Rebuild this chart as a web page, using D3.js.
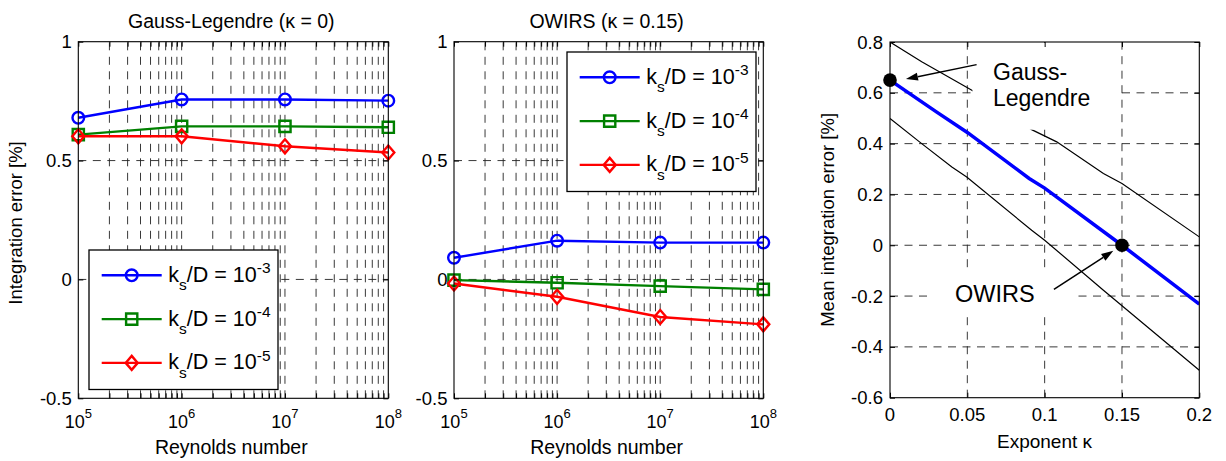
<!DOCTYPE html>
<html>
<head>
<meta charset="utf-8">
<script src="https://cdn.jsdelivr.net/npm/d3@7"></script>
<style>
  html, body { margin: 0; padding: 0; background: #fff; }
  svg { display: block; }
  text { font-family: 'Liberation Sans', Arial, Helvetica, sans-serif; fill: #000; }
</style>
</head>
<body>
<svg id="chart" width="1226" height="461"></svg>
<script>
// ---------------- DATA ----------------
const reynolds = [1e5, 1e6, 1e7, 1e8];
const seriesExponents = ["-3", "-4", "-5"];

// Gauss-Legendre (kappa = 0)
const glKs3 = [0.680, 0.757, 0.757, 0.752];
const glKs4 = [0.609, 0.644, 0.644, 0.640];
const glKs5 = [0.602, 0.602, 0.560, 0.534];

// OWIRS (kappa = 0.15)
const owKs3 = [0.091, 0.163, 0.155, 0.155];
const owKs4 = [-0.003, -0.014, -0.028, -0.042];
const owKs5 = [-0.017, -0.073, -0.158, -0.189];

// Right panel: mean integration error vs exponent kappa
const kappaMean = [0, 0.03, 0.05, 0.09, 0.10, 0.15, 0.20];
const meanErr   = [0.650, 0.525, 0.444, 0.263, 0.225, 0.000, -0.232];
const kappaUpper = [0, 0.0205, 0.0535, 0.0916, 0.1078, 0.138, 0.150, 0.200];
const upperErr   = [0.800, 0.722, 0.608, 0.455, 0.407, 0.282, 0.243, 0.033];
const kappaLower = [0, 0.0205, 0.040, 0.0496, 0.0916, 0.100, 0.138, 0.200];
const lowerErr   = [0.499, 0.400, 0.308, 0.269, 0.059, 0.020, -0.177, -0.492];

// highlighted points
const highlightKappa = [0, 0.15];
const highlightErr   = [0.650, 0.000];

// tick values
const yTicksLeft = [-0.5, 0, 0.5, 1];
const yTickLabelsLeft = ["-0.5", "0", "0.5", "1"];
const xTicksLog = [1e5, 1e6, 1e7, 1e8];
const xTickExpLog = ["5", "6", "7", "8"];
const yTicksRight = [-0.6, -0.4, -0.2, 0, 0.2, 0.4, 0.6, 0.8];
const yTickLabelsRight = ["-0.6", "-0.4", "-0.2", "0", "0.2", "0.4", "0.6", "0.8"];
const xTicksRight = [0, 0.05, 0.1, 0.15, 0.2];
const xTickLabelsRight = ["0", "0.05", "0.1", "0.15", "0.2"];

// ---------------- STYLE / LAYOUT ----------------
const colors = ["#0000ff", "#008000", "#ff0000"];
const markers = ["circle", "square", "diamond"];
const DASH = "8,6.5";
const TICK = 5;
const FS_TICK = 18.5;
const LW = 2.4;

const svg = d3.select("#chart");

function pathMarker(type) {
  if (type === "circle") return d3.symbol().type(d3.symbolCircle).size(Math.PI * 5.8 * 5.8)();
  if (type === "square") return "M-5.6,-5.6L5.6,-5.6L5.6,5.6L-5.6,5.6Z";
  return "M0,-7L6,0L0,7L-6,0Z";
}

function drawLegendEntry(g, x0, y, i) {
  g.append("line").attr("x1", x0).attr("x2", x0 + 60).attr("y1", y).attr("y2", y)
    .attr("stroke", colors[i]).attr("stroke-width", LW);
  g.append("path").attr("d", pathMarker(markers[i])).attr("transform", `translate(${x0 + 30},${y})`)
    .attr("fill", "none").attr("stroke", colors[i]).attr("stroke-width", LW);
  const t = g.append("text").attr("x", x0 + 66.6).attr("y", y + 6.5).attr("font-size", 21.5);
  t.append("tspan").text("k");
  t.append("tspan").attr("dy", 8.5).attr("font-size", 15.5).text("s");
  t.append("tspan").attr("dy", -8.5).text("/D = 10");
  t.append("tspan").attr("dy", -8.5).attr("font-size", 15.5).text(seriesExponents[i]);
}

function logPanel(opts) {
  const { left, right, top, bottom, title, data, legend } = opts;
  const g = svg.append("g");
  const x = d3.scaleLog().domain([1e5, 1e8]).range([left, right]);
  const y = d3.scaleLinear().domain([-0.5, 1]).range([bottom, top]);
  const allX = x.ticks();  // 1..9 multiples in each decade

  // grid
  g.append("g").selectAll("line").data(allX.filter(v => v > 1e5 && v < 1e8)).join("line")
    .attr("x1", d => x(d)).attr("x2", d => x(d)).attr("y1", bottom).attr("y2", top)
    .attr("stroke", "#222").attr("stroke-width", 0.9).attr("stroke-dasharray", DASH);
  g.append("g").selectAll("line").data(yTicksLeft.filter(v => v > -0.5 && v < 1)).join("line")
    .attr("x1", left).attr("x2", right).attr("y1", d => y(d)).attr("y2", d => y(d))
    .attr("stroke", "#222").attr("stroke-width", 0.9).attr("stroke-dasharray", DASH);

  // data
  const line = d3.line().x((d, j) => x(reynolds[j])).y(d => y(d));
  data.forEach((vals, i) => {
    g.append("path").attr("d", line(vals)).attr("fill", "none")
      .attr("stroke", colors[i]).attr("stroke-width", LW).attr("stroke-linejoin", "round");
    g.append("g").selectAll("path").data(vals).join("path")
      .attr("d", pathMarker(markers[i]))
      .attr("transform", (d, j) => `translate(${x(reynolds[j])},${y(d)})`)
      .attr("fill", "none").attr("stroke", colors[i]).attr("stroke-width", LW);
  });

  // axes ticks (inward) bottom/top/left/right
  g.append("g").attr("transform", `translate(0,${bottom})`)
    .call(d3.axisBottom(x).tickValues(allX).tickSize(-TICK).tickFormat(""))
    .call(a => a.select(".domain").remove());
  g.append("g").attr("transform", `translate(0,${top})`)
    .call(d3.axisTop(x).tickValues(allX).tickSize(-TICK).tickFormat(""))
    .call(a => a.select(".domain").remove());
  g.append("g").attr("transform", `translate(${left},0)`)
    .call(d3.axisLeft(y).tickValues(yTicksLeft).tickSize(-TICK).tickFormat(""))
    .call(a => a.select(".domain").remove());
  g.append("g").attr("transform", `translate(${right},0)`)
    .call(d3.axisRight(y).tickValues(yTicksLeft).tickSize(-TICK).tickFormat(""))
    .call(a => a.select(".domain").remove());
  g.selectAll(".tick line").attr("stroke", "#000").attr("stroke-width", 1);

  // legend
  const lg = g.append("g");
  lg.append("rect").attr("x", legend.x).attr("y", legend.y).attr("width", 189).attr("height", 139.5)
    .attr("fill", "#fff").attr("stroke", "#000").attr("stroke-width", 1.3);
  [0, 1, 2].forEach(i => drawLegendEntry(lg, legend.x + 12.7, legend.y + 25.3 + i * 43.8, i));

  // frame
  g.append("rect").attr("x", left).attr("y", top).attr("width", right - left).attr("height", bottom - top)
    .attr("fill", "none").attr("stroke", "#000").attr("stroke-width", 1.1);

  // tick labels
  yTicksLeft.forEach((v, i) => {
    g.append("text").attr("x", left - 6.5).attr("y", y(v) + 6.5).attr("text-anchor", "end")
      .attr("font-size", FS_TICK).text(yTickLabelsLeft[i]);
  });
  xTicksLog.forEach((v, i) => {
    const t = g.append("text").attr("x", x(v)).attr("y", bottom + 30).attr("text-anchor", "middle")
      .attr("font-size", 18);
    t.append("tspan").text("10");
    t.append("tspan").attr("dy", -10).attr("font-size", 13).text(xTickExpLog[i]);
  });

  // title and x label
  g.append("text").attr("x", (left + right) / 2 - 2).attr("y", 27.5).attr("text-anchor", "middle")
    .attr("font-size", 19.5).text(title);
  g.append("text").attr("x", (left + right) / 2 - 2).attr("y", 454).attr("text-anchor", "middle")
    .attr("font-size", 19.5).text("Reynolds number");
  return { x, y };
}

logPanel({ left: 78.3, right: 388.3, top: 41.7, bottom: 398.3,
  title: "Gauss-Legendre (κ = 0)", data: [glKs3, glKs4, glKs5], legend: { x: 89, y: 250 } });
logPanel({ left: 454, right: 763.3, top: 41.7, bottom: 398.3,
  title: "OWIRS (κ = 0.15)", data: [owKs3, owKs4, owKs5], legend: { x: 567, y: 52 } });

// y label left
svg.append("text").attr("transform", "translate(22,223) rotate(-90)").attr("text-anchor", "middle")
  .attr("font-size", 18.5).text("Integration error [%]");

// ---------------- RIGHT PANEL ----------------
(function () {
  const left = 890, right = 1199.3, top = 42, bottom = 397.7;
  const g = svg.append("g");
  const x = d3.scaleLinear().domain([0, 0.2]).range([left, right]);
  const y = d3.scaleLinear().domain([-0.6, 0.8]).range([bottom, top]);

  svg.append("defs").append("clipPath").attr("id", "clip3").append("rect")
    .attr("x", left).attr("y", top).attr("width", right - left).attr("height", bottom - top);

  g.append("g").selectAll("line").data(xTicksRight.slice(1, -1)).join("line")
    .attr("x1", d => x(d)).attr("x2", d => x(d)).attr("y1", bottom).attr("y2", top)
    .attr("stroke", "#222").attr("stroke-width", 0.9).attr("stroke-dasharray", DASH);
  g.append("g").selectAll("line").data(yTicksRight.slice(1, -1)).join("line")
    .attr("x1", left).attr("x2", right).attr("y1", d => y(d)).attr("y2", d => y(d))
    .attr("stroke", "#222").attr("stroke-width", 0.9).attr("stroke-dasharray", DASH);

  const dg = g.append("g").attr("clip-path", "url(#clip3)");
  const mk = (xs, ys) => d3.line().x((d, j) => x(xs[j])).y(d => y(d))(ys);
  dg.append("path").attr("d", mk(kappaUpper, upperErr)).attr("fill", "none").attr("stroke", "#000").attr("stroke-width", 1.2);
  dg.append("path").attr("d", mk(kappaLower, lowerErr)).attr("fill", "none").attr("stroke", "#000").attr("stroke-width", 1.2);
  dg.append("path").attr("d", mk(kappaMean, meanErr)).attr("fill", "none").attr("stroke", "#0000ff").attr("stroke-width", 3.5);

  // label background boxes (white, as in the original)
  g.append("rect").attr("x", x(0.0533)).attr("y", y(0.8) + 1).attr("width", x(0.1474) - x(0.0533))
    .attr("height", y(0.4547) - y(0.8) - 1).attr("fill", "#fff");
  g.append("rect").attr("x", x(0.0272)).attr("y", y(-0.102)).attr("width", x(0.1196) - x(0.0272))
    .attr("height", y(-0.276) - y(-0.102)).attr("fill", "#fff");

  // highlighted points
  g.append("g").selectAll("circle").data(highlightErr).join("circle")
    .attr("cx", (d, j) => x(highlightKappa[j])).attr("cy", d => y(d)).attr("r", 6.8).attr("fill", "#000");

  // arrows
  function arrow(k0, v0, k1, v1) {
    const x0 = x(k0), y0 = y(v0), x1 = x(k1), y1 = y(v1);
    const ang = Math.atan2(y1 - y0, x1 - x0);
    const L = 12, W = 4;
    const bx = x1 - L * Math.cos(ang), by = y1 - L * Math.sin(ang);
    g.append("line").attr("x1", x0).attr("y1", y0).attr("x2", bx).attr("y2", by)
      .attr("stroke", "#000").attr("stroke-width", 1.5);
    g.append("path").attr("d", `M${x1},${y1}L${bx - W * Math.sin(ang)},${by + W * Math.cos(ang)}L${bx + W * Math.sin(ang)},${by - W * Math.cos(ang)}Z`)
      .attr("fill", "#000");
  }
  arrow(0.056, 0.711, 0.0103, 0.654);
  arrow(0.106, -0.174, 0.1444, -0.022);

  // text labels (two separate lines)
  g.append("text").attr("x", 993).attr("y", 80).attr("font-size", 23).text("Gauss-");
  g.append("text").attr("x", 993).attr("y", 105.5).attr("font-size", 23).text("Legendre");
  g.append("text").attr("x", 955).attr("y", 302).attr("font-size", 23.5).text("OWIRS");

  // ticks
  g.append("g").attr("transform", `translate(0,${bottom})`)
    .call(d3.axisBottom(x).tickValues(xTicksRight).tickSize(-TICK).tickFormat("")).call(a => a.select(".domain").remove());
  g.append("g").attr("transform", `translate(0,${top})`)
    .call(d3.axisTop(x).tickValues(xTicksRight).tickSize(-TICK).tickFormat("")).call(a => a.select(".domain").remove());
  g.append("g").attr("transform", `translate(${left},0)`)
    .call(d3.axisLeft(y).tickValues(yTicksRight).tickSize(-TICK).tickFormat("")).call(a => a.select(".domain").remove());
  g.append("g").attr("transform", `translate(${right},0)`)
    .call(d3.axisRight(y).tickValues(yTicksRight).tickSize(-TICK).tickFormat("")).call(a => a.select(".domain").remove());
  g.selectAll(".tick line").attr("stroke", "#000").attr("stroke-width", 1);

  g.append("rect").attr("x", left).attr("y", top).attr("width", right - left).attr("height", bottom - top)
    .attr("fill", "none").attr("stroke", "#000").attr("stroke-width", 1.1);

  yTicksRight.forEach((v, i) => {
    g.append("text").attr("x", left - 7).attr("y", y(v) + 6.5).attr("text-anchor", "end")
      .attr("font-size", FS_TICK).text(yTickLabelsRight[i]);
  });
  xTicksRight.forEach((v, i) => {
    g.append("text").attr("x", x(v)).attr("y", 421).attr("text-anchor", "middle")
      .attr("font-size", FS_TICK).text(xTickLabelsRight[i]);
  });

  g.append("text").attr("x", 1044.5).attr("y", 448).attr("text-anchor", "middle")
    .attr("font-size", 19).text("Exponent κ");
  g.append("text").attr("transform", `translate(834,${(top + bottom) / 2}) rotate(-90)`).attr("text-anchor", "middle")
    .attr("font-size", 18.5).text("Mean integration error [%]");
})();
</script>
</body>
</html>
